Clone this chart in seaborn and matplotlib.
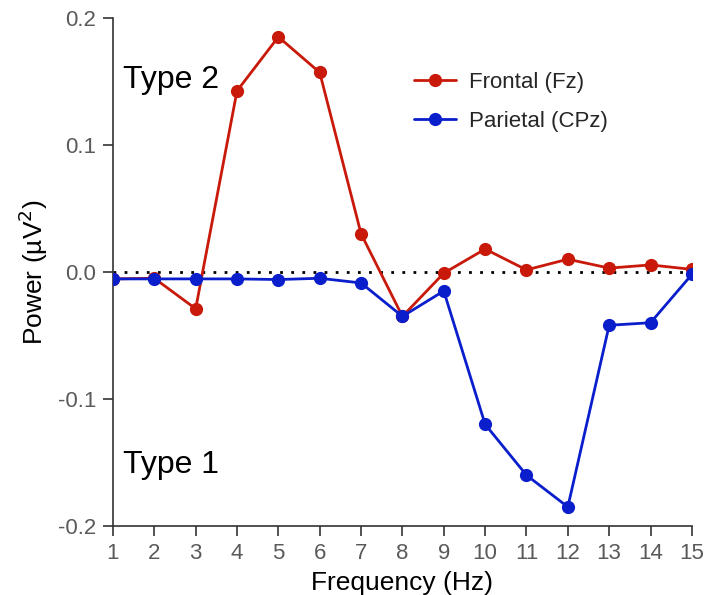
import pandas as pd
import matplotlib
matplotlib.use("Agg")
import matplotlib.pyplot as plt
import seaborn as sns

# valores
freqs = list(range(1, 16))
frontal = [-0.0055, -0.005, -0.029, 0.1425, 0.185, 0.157, 0.030, -0.035,
           -0.001, 0.018, 0.0016, 0.010, 0.003, 0.0055, 0.002]
parietal = [-0.0055, -0.0055, -0.0055, -0.0055, -0.006, -0.005, -0.0087, -0.035,
            -0.015, -0.120, -0.160, -0.185, -0.042, -0.040, -0.002]
series = ["Frontal (Fz)", "Parietal (CPz)"]
colores = ["#c8190a", "#0a1ecc"]

df = pd.DataFrame({
    "Frequency": freqs * 2,
    "Power": frontal + parietal,
    "Canal": [series[0]] * len(freqs) + [series[1]] * len(freqs),
})

sns.set_theme(style="ticks")
plt.rcParams["font.family"] = ["Liberation Sans", "DejaVu Sans"]

fig = plt.figure(figsize=(7.06, 5.95), dpi=100)
ax = fig.add_axes([0.160, 0.116, 0.820, 0.854])

ax.axhline(0, color="black", linestyle=(0, (1, 3)), linewidth=2, zorder=1)

sns.lineplot(data=df, x="Frequency", y="Power", hue="Canal", palette=colores,
             marker="o", markersize=9.5, markeredgewidth=0, linewidth=2,
             ax=ax, zorder=3)

ax.set_xlim(1, 15)
ax.set_ylim(-0.2, 0.2)
ax.set_xticks(freqs)
ax.set_yticks([-0.2, -0.1, 0.0, 0.1, 0.2])
ax.set_yticklabels(["-0.2", "-0.1", "0.0", "0.1", "0.2"])
ax.tick_params(axis="both", labelsize=16, labelcolor="#5a5a5a", length=7,
               width=1.2, color="#333333", direction="out", pad=5)
for lado in ["left", "bottom"]:
    ax.spines[lado].set_linewidth(1.2)
    ax.spines[lado].set_color("#333333")
sns.despine(ax=ax)

ax.set_xlabel("Frequency (Hz)", fontsize=19, color="black", labelpad=5)
ax.set_ylabel("Power (µV$^2$)", fontsize=19, color="black", labelpad=6)

ax.text(0.018, 0.878, "Type 2", transform=ax.transAxes, fontsize=23,
        va="center", ha="left", color="black")
ax.text(0.018, 0.12, "Type 1", transform=ax.transAxes, fontsize=23,
        va="center", ha="left", color="black")

leg = ax.legend(loc="upper left", bbox_to_anchor=(0.50, 0.915), frameon=False,
                fontsize=16, handlelength=1.9, handletextpad=0.6,
                labelspacing=0.8, borderpad=0)

fig.savefig("out.png", dpi=100)
